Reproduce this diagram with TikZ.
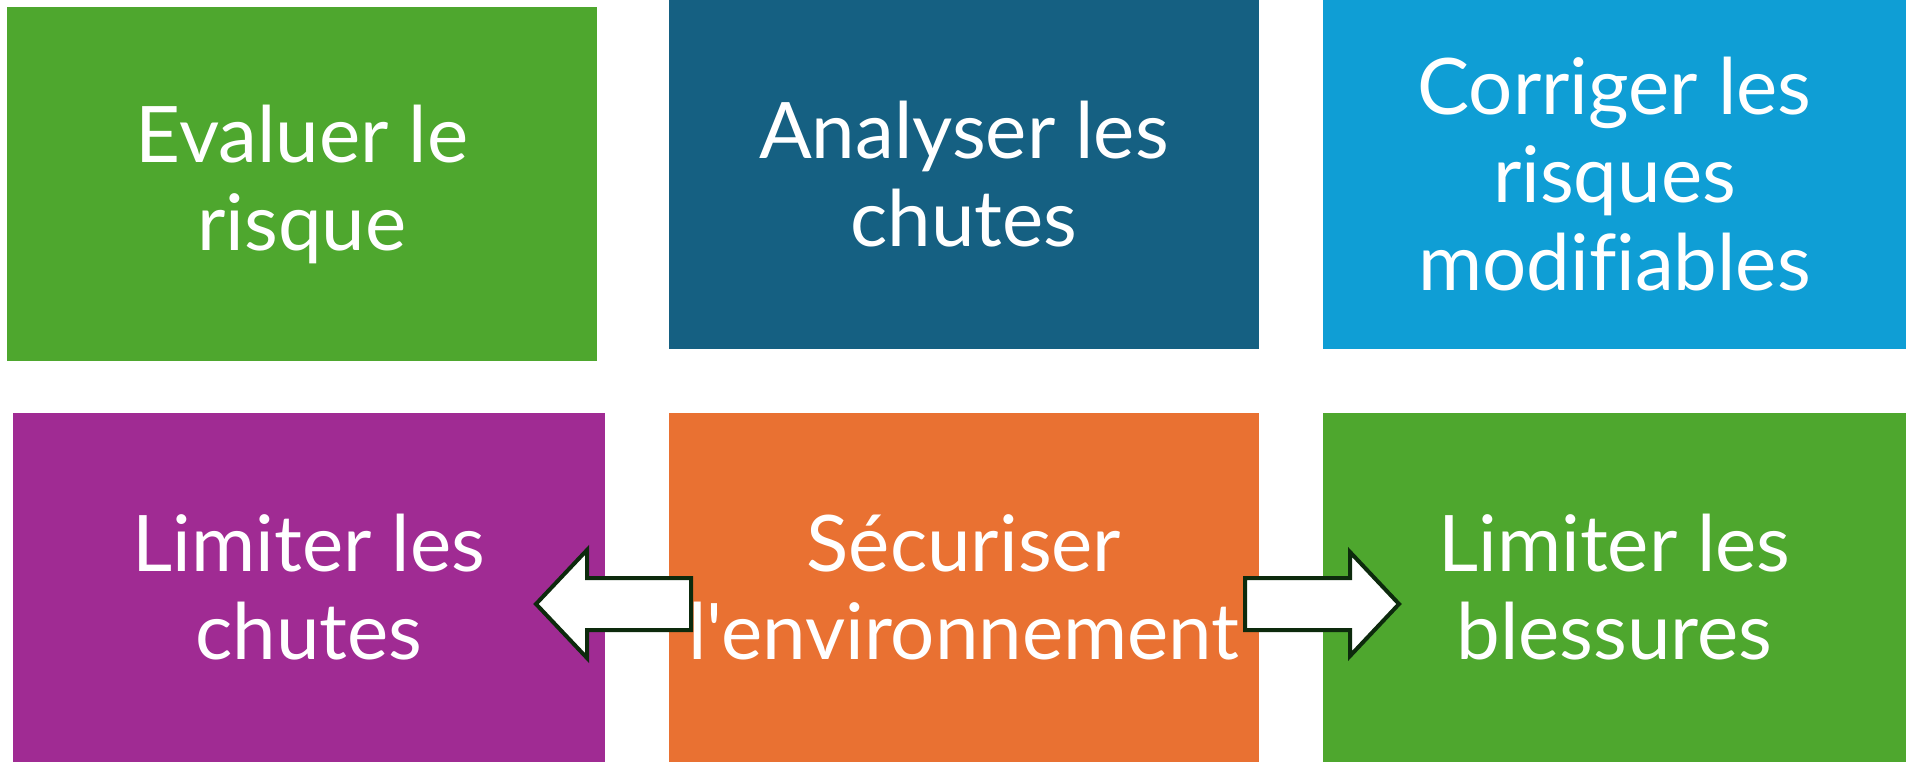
\documentclass[tikz,border=0pt]{standalone}
\usepackage{fontspec}
\setmainfont{Lato}[Ligatures={TeXOff,NoCommon}]
\definecolor{cgreen}{HTML}{4EA72E}
\definecolor{cdblue}{HTML}{156082}
\definecolor{clblue}{HTML}{0F9ED5}
\definecolor{cpurple}{HTML}{A02B93}
\definecolor{corange}{HTML}{E97132}
\definecolor{carrow}{HTML}{0D2A0D}
\begin{document}
\begin{tikzpicture}[x=1pt,y=-1pt,
  box/.style={anchor=north west, inner sep=0pt, outer sep=0pt, align=center,
    text=white, font=\fontsize{78}{88}\selectfont},
  blockarrow/.style={draw=carrow, fill=white, line width=4pt, line join=miter}]
\useasboundingbox (0,0) rectangle (1906,762);
\node[box, fill=cgreen, minimum width=590pt, minimum height=354pt] (b1) at (7,7) {Evaluer le\\risque};
\node[box, fill=cdblue, minimum width=590pt, minimum height=349pt] (b2) at (669,0) {Analyser les\\chutes};
\node[box, fill=clblue, minimum width=583pt, minimum height=349pt] (b3) at (1323,0) {Corriger les\\risques\\modifiables};
\node[box, fill=cpurple, minimum width=592pt, minimum height=349pt] (b4) at (13,413) {Limiter les\\chutes};
\node[box, fill=corange, minimum width=590pt, minimum height=349pt] (b5) at (669,413) {Sécuriser\\l{\char"27}environnement};
\node[box, fill=cgreen, minimum width=583pt, minimum height=349pt] (b6) at (1323,413) {Limiter les\\blessures};
% right block arrow
\draw[blockarrow] (1245,578) -- (1350,578) -- (1350,552) -- (1399,604) -- (1350,656) -- (1350,630) -- (1245,630) -- cycle;
% left block arrow
\draw[blockarrow] (691,578) -- (587,578) -- (587,550) -- (536,604) -- (587,658) -- (587,630) -- (691,630) -- cycle;
\end{tikzpicture}
\end{document}
